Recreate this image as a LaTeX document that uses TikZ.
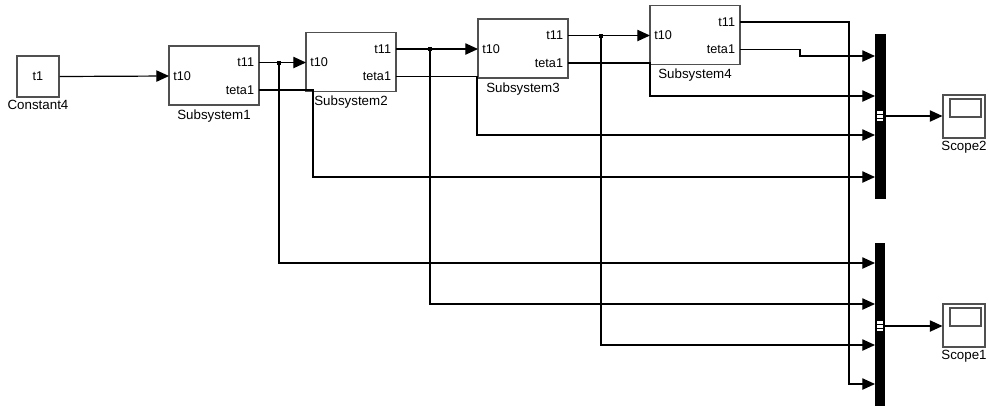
\documentclass[tikz,border=0pt]{standalone}
\usepackage{fontspec}
\setmainfont{Liberation Sans}
\usetikzlibrary{arrows.meta,positioning,fit}

\tikzset{
  blk/.style={draw={rgb,255:red,80;green,80;blue,80}, line width=0.8pt, inner sep=0pt, fit={#1}},
  sig/.style={line width=0.9pt},
  sigarr/.style={sig, -{Triangle[length=9.5pt,width=8.5pt]}},
  port/.style={inner sep=1pt, font=\fontsize{9.5}{11}\selectfont},
  lbl/.style={inner sep=1pt, font=\fontsize{10}{12}\selectfont},
  jdot/.style={fill=black, minimum size=3pt, inner sep=0pt},
  muxbar/.style={fill=black, draw=black, inner sep=0pt, fit={#1}}
}

\begin{document}
\begin{tikzpicture}[x=0.75pt,y=0.75pt,yscale=-1,xscale=1]
\useasboundingbox (0,0) rectangle (989,405);

%Shape: Constant [id:constant4]
\node [blk={(17,56) (59,97)}] (con) {};
\node [port] (con-txt) at (con.center) {t1};
\node [lbl, below=1pt of con] (con-lbl) {Constant4};

%Shape: Subsystems [id:sub1..sub4]
\foreach \n/\x/\y in {1/169/46, 2/306/32.5, 3/478/19, 4/650/5.5} {
  \node [blk={(\x,\y) (\x+90,\y+59)}] (sub\n) {};
  \coordinate (sub\n-t10) at (\x,\y+30);
  \coordinate (sub\n-t11) at (\x+90,\y+16.5);
  \coordinate (sub\n-teta1) at (\x+90,\y+44);
  \node [port, anchor=west, xshift=2pt] (sub\n-t10-txt) at (sub\n-t10) {t10};
  \node [port, anchor=east, xshift=-2.5pt] (sub\n-t11-txt) at (sub\n-t11) {t11};
  \node [port, anchor=east, xshift=-2.5pt] (sub\n-teta1-txt) at (sub\n-teta1) {teta1};
  \node [lbl, below=2pt of sub\n] (sub\n-lbl) {Subsystem\n};
}

%Shape: Mux [id:mux2]
\node [muxbar={(875,34) (885,198)}] (mux2) {};
\foreach \i/\y in {1/56, 2/96, 3/135, 4/177} {
  \coordinate (mux2-in\i) at (875,\y);
}
%Shape: Mux [id:mux1]
\node [muxbar={(875,243) (884,406)}] (mux1) {};
\foreach \i/\y in {1/263, 2/304, 3/345, 4/384} {
  \coordinate (mux1-in\i) at (875,\y);
}
\coordinate (mux2-out) at (885,116);
\coordinate (mux1-out) at (884,326);

%Mux icons
\fill [white] (877,111) rectangle (883,121);
\draw [black, line width=0.6pt] (877,114.5) -- (883,114.5) (877,118) -- (883,118);
\fill [white] (877,321) rectangle (883,331);
\draw [black, line width=0.6pt] (877,324.5) -- (883,324.5) (877,328) -- (883,328);

%Shape: Scopes [id:scope2, scope1]
\node [blk={(943,95) (985,138)}] (scope2) {};
\draw [draw={rgb,255:red,80;green,80;blue,80}, line width=0.8pt] (950,99) rectangle (981,117);
\node [lbl, below=1pt of scope2] (scope2-lbl) {Scope2};
\node [blk={(943,304) (985,347)}] (scope1) {};
\draw [draw={rgb,255:red,80;green,80;blue,80}, line width=0.8pt] (950,308) rectangle (981,326);
\node [lbl, below=1pt of scope1] (scope1-lbl) {Scope1};

%Junctions
\node [jdot] (j1) at (279,62.5) {};
\node [jdot] (j2) at (430,49) {};
\node [jdot] (j3) at (601,35.5) {};

%Straight Lines
\draw [sigarr] (con.east) -- (sub1-t10);
\draw [sig] (sub1-t11) -- (j1.center);
\draw [sigarr] (j1.center) -- (sub2-t10);
\draw [sigarr] (j1.center) |- (mux1-in1);
\draw [sigarr] (sub1-teta1) -- ++(54,0) |- (mux2-in4);

\draw [sig] (sub2-t11) -- (j2.center);
\draw [sigarr] (j2.center) -- (sub3-t10);
\draw [sigarr] (j2.center) |- (mux1-in2);
\draw [sigarr] (sub2-teta1) -- ++(81,0) |- (mux2-in3);

\draw [sig] (sub3-t11) -- (j3.center);
\draw [sigarr] (j3.center) -- (sub4-t10);
\draw [sigarr] (j3.center) |- (mux1-in3);
\draw [sigarr] (sub3-teta1) -- ++(82,0) |- (mux2-in2);

\draw [sigarr] (sub4-t11) -- ++(109,0) |- (mux1-in4);
\draw [sigarr] (sub4-teta1) -- ++(60,0) |- (mux2-in1);

\draw [sigarr] (mux2-out) -- (scope2.west |- mux2-out);
\draw [sigarr] (mux1-out) -- (scope1.west |- mux1-out);

\end{tikzpicture}
\end{document}
